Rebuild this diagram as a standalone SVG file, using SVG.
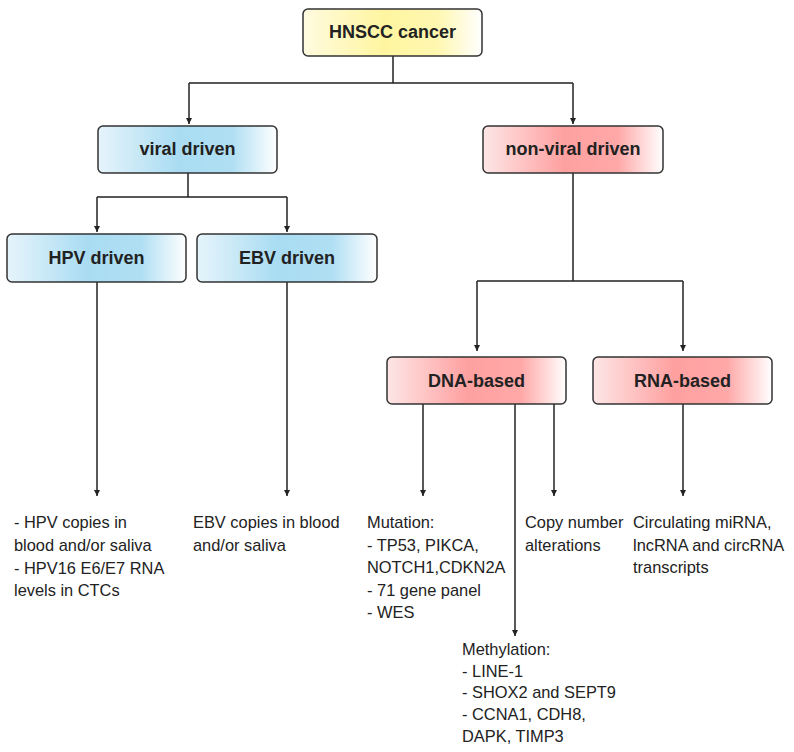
<svg xmlns="http://www.w3.org/2000/svg" width="794" height="752" viewBox="0 0 794 752">
<defs>
<linearGradient id="gy" x1="0" y1="0" x2="1" y2="0">
<stop offset="0" stop-color="#fffbe0"/><stop offset="0.45" stop-color="#fff5a0"/><stop offset="0.75" stop-color="#fff7b0"/><stop offset="1" stop-color="#ffffff"/>
</linearGradient>
<linearGradient id="gb" x1="0" y1="0" x2="1" y2="0">
<stop offset="0" stop-color="#e6f4fb"/><stop offset="0.45" stop-color="#a9dcf2"/><stop offset="0.75" stop-color="#b0dff3"/><stop offset="1" stop-color="#ffffff"/>
</linearGradient>
<linearGradient id="gr" x1="0" y1="0" x2="1" y2="0">
<stop offset="0" stop-color="#fde6e6"/><stop offset="0.45" stop-color="#ffa0a0"/><stop offset="0.75" stop-color="#ffa8a8"/><stop offset="1" stop-color="#ffffff"/>
</linearGradient>
<marker id="ah" viewBox="0 0 10 10" refX="10" refY="5" markerWidth="6" markerHeight="6" orient="auto" markerUnits="userSpaceOnUse">
<path d="M0,0 L10,5 L0,10 z" fill="#222"/>
</marker>
<style>
.box{stroke:#333;stroke-width:1.5}
.lbl{font-family:"Liberation Sans",Arial,sans-serif;font-weight:bold;font-size:18px;fill:#222;text-anchor:middle}
.txt{font-family:"Liberation Sans",Arial,sans-serif;font-size:16.4px;fill:#222}
.c{fill:none;stroke:#222;stroke-width:1.5}
.a{fill:none;stroke:#222;stroke-width:1.5;marker-end:url(#ah)}
</style>
</defs>
<rect width="794" height="752" fill="#fff"/>
<g id="connectors">
<path class="c" d="M393,56 V83 M189,83 H573"/>
<path class="a" d="M189,83 V124"/>
<path class="a" d="M573,83 V124"/>
<path class="c" d="M188,173 V197 M97,197 H287"/>
<path class="a" d="M97,197 V232"/>
<path class="a" d="M287,197 V232"/>
<path class="c" d="M573,173 V281 M477,281 H683"/>
<path class="a" d="M477,281 V351"/>
<path class="a" d="M683,281 V351"/>
<path class="a" d="M97,282 V496"/>
<path class="a" d="M287,282 V496"/>
<path class="a" d="M423,404 V496"/>
<path class="a" d="M515,404 V636"/>
<path class="a" d="M554,404 V496"/>
<path class="a" d="M683,404 V496"/>
</g>
<g id="hnscc"><rect class="box" x="303" y="9" width="179" height="47" rx="5" fill="url(#gy)"/><text class="lbl" x="392.5" y="38">HNSCC cancer</text></g>
<g id="viral"><rect class="box" x="98" y="126" width="179" height="47" rx="5" fill="url(#gb)"/><text class="lbl" x="187.5" y="155">viral driven</text></g>
<g id="nonviral"><rect class="box" x="483" y="126" width="180" height="47" rx="5" fill="url(#gr)"/><text class="lbl" x="573" y="155">non-viral driven</text></g>
<g id="hpv"><rect class="box" x="7" y="234" width="179" height="48" rx="5" fill="url(#gb)"/><text class="lbl" x="96.5" y="264">HPV driven</text></g>
<g id="ebv"><rect class="box" x="197" y="234" width="180" height="48" rx="5" fill="url(#gb)"/><text class="lbl" x="287" y="264">EBV driven</text></g>
<g id="dna"><rect class="box" x="387" y="357" width="179" height="47" rx="5" fill="url(#gr)"/><text class="lbl" x="476.5" y="387">DNA-based</text></g>
<g id="rna"><rect class="box" x="593" y="357" width="179" height="47" rx="5" fill="url(#gr)"/><text class="lbl" x="682.5" y="387">RNA-based</text></g>
<g id="hpvtext"><text class="txt" x="14" y="528">- HPV copies in</text><text class="txt" x="14" y="551">blood and/or saliva</text><text class="txt" x="14" y="574">- HPV16 E6/E7 RNA</text><text class="txt" x="14" y="596">levels in CTCs</text></g>
<g id="ebvtext"><text class="txt" x="193" y="528">EBV copies in blood</text><text class="txt" x="193" y="551">and/or saliva</text></g>
<g id="mutation"><text class="txt" x="367" y="528">Mutation:</text><text class="txt" x="367" y="551">- TP53, PIKCA,</text><text class="txt" x="367" y="573">NOTCH1,CDKN2A</text><text class="txt" x="367" y="596">- 71 gene panel</text><text class="txt" x="367" y="618">- WES</text></g>
<g id="copynumber"><text class="txt" x="525" y="528">Copy number</text><text class="txt" x="525" y="551">alterations</text></g>
<g id="circ"><text class="txt" x="633" y="528">Circulating miRNA,</text><text class="txt" x="633" y="551">lncRNA and circRNA</text><text class="txt" x="633" y="573">transcripts</text></g>
<g id="methylation"><text class="txt" x="462" y="655">Methylation:</text><text class="txt" x="462" y="677">- LINE-1</text><text class="txt" x="462" y="698">- SHOX2 and SEPT9</text><text class="txt" x="462" y="720">- CCNA1, CDH8,</text><text class="txt" x="462" y="742">DAPK, TIMP3</text></g>
</svg>
